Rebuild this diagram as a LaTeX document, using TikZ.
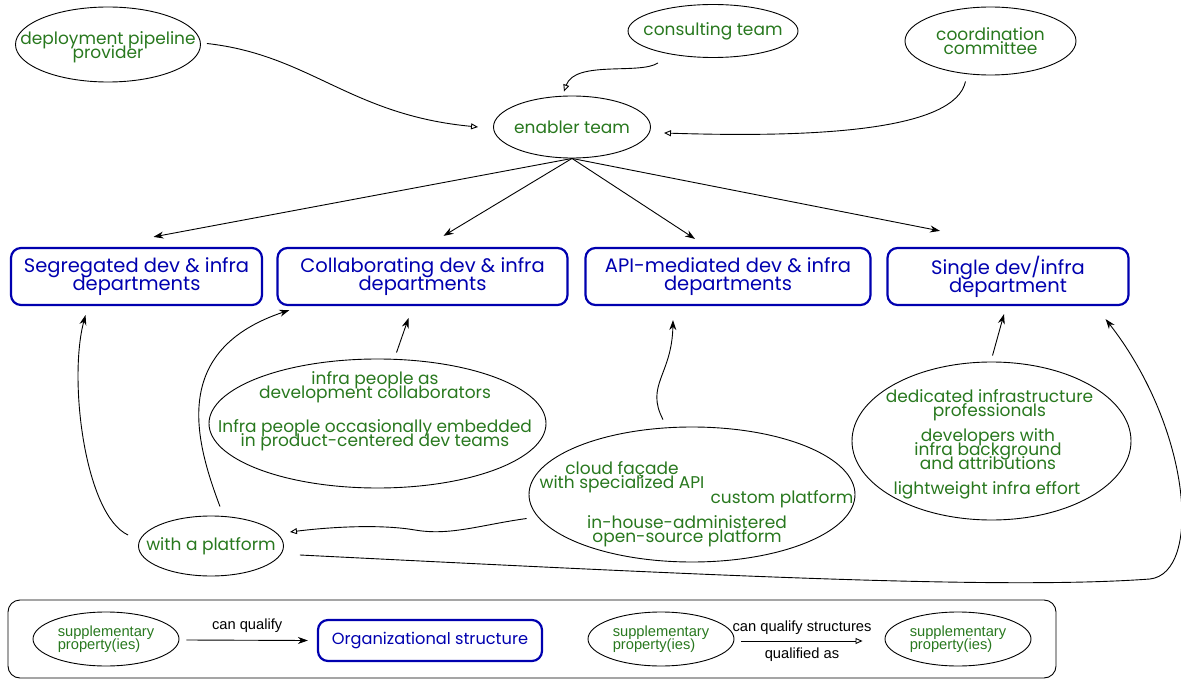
\documentclass[tikz,border=0pt]{standalone}
\usepackage{fontspec}
\setmainfont{Poppins}
\newfontfamily\legendfont{Liberation Sans}
\usetikzlibrary{shapes.geometric,arrows.meta}
\definecolor{leafgreen}{RGB}{40,120,30}
\definecolor{deepblue}{RGB}{0,0,175}
\newcommand\propfont{\fontsize{17}{14}\selectfont\lineskiplimit=-100pt}
\newcommand\structfont{\fontsize{19.5}{18}\selectfont\lineskiplimit=-100pt}
\newcommand\smallstructfont{\fontsize{16.2}{16}\selectfont}
\newcommand\legendtext{\legendfont\fontsize{14.7}{13.5}\selectfont\lineskiplimit=-100pt}
\begin{document}
\begin{tikzpicture}[x=1pt,y=-1pt,
  prop/.style={ellipse,draw,line width=0.9pt,inner sep=0pt},
  proptext/.style={text=leafgreen,align=center,font=\propfont,inner sep=0pt},
  struct/.style={draw=deepblue,line width=2.2pt,rounded corners=10pt,
    text=deepblue,align=center,font=\structfont,inner sep=0pt,minimum height=57pt},
  legprop/.style={ellipse,draw,line width=0.9pt,inner sep=0pt,
    minimum width=146pt,minimum height=54pt},
  legproptext/.style={text=leafgreen,align=left,font=\legendtext,inner sep=0pt},
  leglabel/.style={font=\legendtext,inner sep=0pt},
  link/.style={line width=0.9pt,-{Stealth[length=10pt,width=7pt]}},
  openlink/.style={line width=0.9pt,-{Triangle[open,length=7pt,width=6pt]}}]
\useasboundingbox (0,0) rectangle (1181,679);

% property ellipses around the enabler team
\node[prop,minimum width=185pt,minimum height=75pt,
  label={[proptext,yshift=-3pt]center:{deployment pipeline\\provider}}] (dpp) at (108,44.5) {};
\node[prop,minimum width=170pt,minimum height=53pt,
  label={[proptext]center:consulting team}] (consult) at (713,31) {};
\node[prop,minimum width=171pt,minimum height=68pt,
  label={[proptext]center:{coordination\\committee}}] (coord) at (990.5,41) {};
\node[prop,minimum width=157pt,minimum height=62pt,
  label={[proptext]center:enabler team}] (enabler) at (572,127) {};

% organizational structures
\node[struct,minimum width=251pt] (seg) at (136.5,276.5)
  {Segregated dev \& infra\\departments};
\node[struct,minimum width=290pt] (collab) at (422.5,276.5)
  {Collaborating dev \& infra\\departments};
\node[struct,minimum width=285pt] (api) at (728,276.5)
  {API-mediated dev \& infra\\departments};
\node[struct,minimum width=241pt] (single) at (1008,276.5)
  {Single dev/infra\\department};

% supplementary properties below the structures (base = last line)
\node[prop,minimum width=337pt,minimum height=129pt] (infraE) at (377.5,423.5) {};
\node[proptext,anchor=base] (infraT1) at (375,398) {infra people as\\development collaborators};
\node[proptext,anchor=base] (infraT2) at (375,446) {Infra people occasionally embedded\\in product-centered dev teams};

\node[prop,minimum width=326pt,minimum height=135pt] (apiE) at (692,494.5) {};
\node[proptext,anchor=base] (apiT1) at (622,488) {cloud façade\\with specialized API};
\node[proptext,anchor=base] (apiT2) at (782,503) {custom platform};
\node[proptext,anchor=base] (apiT3) at (687,542) {in-house-administered\\open-source platform};

\node[prop,minimum width=279pt,minimum height=158pt] (singleE) at (991.5,441) {};
\node[proptext,anchor=base] (singleT1) at (989.5,416) {dedicated infrastructure\\professionals};
\node[proptext,anchor=base] (singleT2) at (988,469) {developers with\\infra background\\and attributions};
\node[proptext,anchor=base] (singleT3) at (987,494) {lightweight infra effort};

\node[prop,minimum width=145pt,minimum height=60pt,
  label={[proptext]center:with a platform}] (wp) at (211,546) {};

% enabler team towards the structures
\draw[link] (enabler.south) -- ([xshift=17pt,yshift=10pt]seg.north);
\draw[link] (enabler.south) -- ([xshift=21pt,yshift=11pt]collab.north);
\draw[link] (enabler.south) -- ([xshift=-33pt,yshift=8pt]api.north);
\draw[link] (enabler.south) -- ([xshift=-68pt,yshift=16pt]single.north);

% qualifiers of the enabler team
\draw[openlink] ([xshift=6pt,yshift=1pt]dpp.east)
  .. controls (310,55) and (350,115) .. ([xshift=-15pt]enabler.west);
\draw[openlink] ([xshift=-55pt,yshift=-5pt]consult.south)
  .. controls (640,75) and (575,60) .. ([xshift=-8pt,yshift=4pt]enabler.north);
\draw[openlink] ([xshift=-25pt,yshift=-6pt]coord.south)
  .. controls (955,130) and (820,138) .. ([xshift=13pt,yshift=-6pt]enabler.east);

% supplementary properties towards the structures
\draw[link] ([xshift=-10pt,yshift=11pt]wp.west)
  .. controls (85,515) and (68,380) .. ([xshift=-51pt,yshift=-9pt]seg.south);
\draw[link] ([xshift=9pt,yshift=9pt]wp.north)
  .. controls (195,440) and (170,350) .. ([xshift=13pt,yshift=-4pt]collab.south west);
\draw[link] ([xshift=19pt,yshift=6pt]infraE.north)
  -- ([xshift=-14pt,yshift=-12pt]collab.south);
\draw[link] ([xshift=-29pt,yshift=7pt]apiE.north)
  .. controls (645,385) and (672,375) .. ([xshift=-55pt,yshift=-14pt]api.south);
\draw[link] ([xshift=1pt,yshift=6pt]singleE.north)
  -- ([xshift=-4pt,yshift=-8pt]single.south);
\draw[openlink] ([xshift=-2pt,yshift=-24pt]apiE.west)
  .. controls (480,525) and (450,536) .. (415,530)
  .. controls (380,524) and (330,527) .. ([xshift=6pt,yshift=14pt]wp.east);
\draw[link] ([xshift=16pt,yshift=-9pt]wp.east)
  .. controls (700,575) and (1000,590) .. (1150,579)
  .. controls (1202,573) and (1192,430) .. ([xshift=-24pt,yshift=-13pt]single.south east);

% legend
\node[draw,line width=0.9pt,rounded corners=12pt,minimum width=1048pt,
  minimum height=78pt,inner sep=0pt] (legend) at (532,639) {};
\node[legprop,label={[legproptext]center:{supplementary\\property(ies)}}] (leg1) at (106,639) {};
\node[struct,font=\smallstructfont,minimum width=224pt,minimum height=41pt]
  (legstruct) at (430,640.5) {Organizational structure};
\node[legprop,label={[legproptext]center:{supplementary\\property(ies)}}] (leg2) at (661,639) {};
\node[legprop,label={[legproptext]center:{supplementary\\property(ies)}}] (leg3) at (958,639) {};
\draw[link] ([xshift=7pt,yshift=-1pt]leg1.east) -- ([xshift=-9pt]legstruct.west)
  node[midway,above=7pt,leglabel] (qual1) {can qualify};
\draw[openlink] ([xshift=7pt,yshift=-2pt]leg2.east) -- ([xshift=-22pt,yshift=-2pt]leg3.west)
  node[midway,above=6pt,leglabel] (qual2) {can qualify structures}
  node[midway,below=6pt,leglabel] (qual3) {qualified as};
\end{tikzpicture}
\end{document}
